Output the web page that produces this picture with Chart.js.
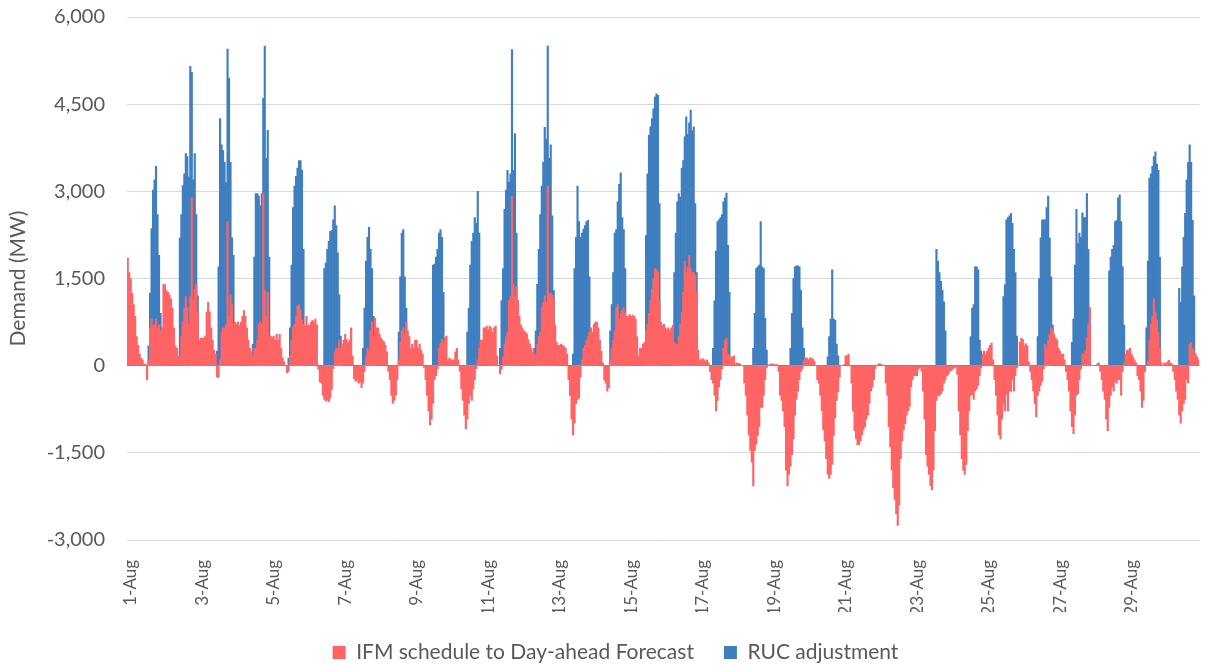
<!DOCTYPE html>
<html>
<head>
<meta charset="utf-8">
<script src="https://cdn.jsdelivr.net/npm/chart.js@4/dist/chart.umd.min.js"></script>
<style>
  html, body { margin: 0; padding: 0; background: #fff; overflow: hidden; }
  #wrap { width: 1231px; height: 665px; position: relative; }
</style>
</head>
<body>
<div id="wrap"><canvas id="demandChart"></canvas></div>
<script>
const days = ['1-Aug','2-Aug','3-Aug','4-Aug','5-Aug','6-Aug','7-Aug','8-Aug','9-Aug','10-Aug',
  '11-Aug','12-Aug','13-Aug','14-Aug','15-Aug','16-Aug','17-Aug','18-Aug','19-Aug','20-Aug',
  '21-Aug','22-Aug','23-Aug','24-Aug','25-Aug','26-Aug','27-Aug','28-Aug','29-Aug','30-Aug'];
const tickDays = ['1-Aug','3-Aug','5-Aug','7-Aug','9-Aug','11-Aug','13-Aug','15-Aug',
  '17-Aug','19-Aug','21-Aug','23-Aug','25-Aug','27-Aug','29-Aug'];
const yTicks = [-3000, -1500, 0, 1500, 3000, 4500, 6000];

// hourly MW, one row per day (hours 0..23)
const ifm = [
  1850,1600,1500,1250,1050,850,500,350,200,130,100,30,20,-240,100,650,800,700,700,800,650,700,600,650,
  1400,1390,1290,1260,1220,1150,990,650,340,300,170,170,510,750,990,1190,1000,710,1190,2890,1120,1320,1400,920,
  440,475,475,475,510,920,1090,920,650,440,270,200,-200,-200,100,580,650,650,710,2480,850,1220,1050,710,
  750,710,750,680,750,850,950,850,650,440,300,240,170,300,300,440,710,750,710,2960,1290,850,1260,510,
  510,475,510,440,540,440,540,300,135,70,0,-120,-100,170,440,650,710,850,1020,1050,950,780,710,680,
  850,700,700,750,780,750,800,700,-60,-280,-300,-510,-580,-610,-590,-620,-560,-410,-50,240,300,300,440,300,
  370,440,540,450,400,440,650,170,-230,-270,-250,-300,-280,-380,-300,-100,150,300,250,600,750,500,820,650,
  650,550,480,440,410,350,240,-100,-240,-510,-650,-600,-510,-240,100,400,600,650,550,750,600,500,300,370,
  300,440,440,300,370,270,200,-30,-240,-510,-780,-1020,-920,-650,-240,-170,-60,300,380,450,400,480,510,100,
  135,100,100,100,240,300,100,-100,-400,-600,-850,-1090,-920,-650,-510,-600,-400,-240,-50,100,300,440,440,650,
  650,680,620,680,650,580,650,680,170,0,-140,-60,150,370,500,580,1120,1190,2920,1390,1190,1360,1120,850,
  700,650,600,580,550,450,370,300,240,200,170,370,500,580,1000,1090,1200,1090,3090,1220,1250,1220,1150,700,
  400,350,350,370,350,330,300,200,-240,-510,-920,-1190,-990,-650,-580,-560,-200,100,300,350,440,500,580,650,
  580,710,750,750,650,440,250,50,-250,-300,-440,-380,100,300,440,600,1000,1050,800,900,950,1000,900,850,
  850,880,850,870,850,800,500,170,300,300,370,400,600,710,900,1120,1320,1500,1670,1650,1600,1120,750,700,
  710,650,620,650,600,650,700,400,370,370,500,710,920,1260,1800,1600,1700,1900,1670,1600,1600,1560,1260,270,
  100,100,120,100,70,100,50,-100,-240,-300,-510,-780,-600,-370,-240,-50,300,440,475,200,170,135,150,170,
  30,50,40,30,0,0,-300,-510,-850,-1190,-1460,-1660,-2070,-1460,-1350,-1200,-1050,-720,-720,-510,-240,-40,0,20,
  30,30,20,20,20,-100,-510,-600,-780,-1050,-1800,-2070,-1870,-1730,-1530,-1260,-850,-580,-440,-240,-100,-50,100,135,
  130,100,130,135,110,80,0,-240,-300,-510,-780,-1100,-1300,-1600,-1870,-1940,-1870,-1700,-1200,-900,-600,-450,-200,0,
  0,20,170,170,200,0,-300,-780,-1120,-1260,-1360,-1360,-1300,-1190,-1100,-1050,-920,-850,-650,-440,-370,-240,-50,0,
  30,30,20,10,0,-300,-510,-1050,-1400,-1800,-2100,-2300,-2550,-2750,-2400,-1600,-1300,-1100,-1000,-850,-780,-700,-370,-240,
  -170,-170,-170,-60,-30,-100,-440,-920,-1530,-1730,-1870,-2070,-2140,-1800,-1120,-600,-510,-520,-480,-440,-300,-240,-170,-150,
  -100,-80,-60,-40,-20,-150,-780,-1190,-1600,-1800,-1870,-1700,-1120,-780,-510,-500,-580,-440,-400,-340,-170,-40,200,250,
  200,250,300,350,390,100,-240,-510,-850,-1190,-1260,-920,-650,-780,-500,-780,-440,-440,-240,-440,-170,-40,0,400,
  475,450,340,380,340,60,-100,-240,-440,-650,-880,-510,-440,-340,-270,-50,370,300,440,540,650,620,540,475,
  440,300,250,200,200,100,-100,-240,-440,-780,-1050,-1170,-850,-510,-480,-240,-60,200,200,250,475,710,1000,0,
  0,0,0,30,50,-100,-240,-440,-580,-920,-1120,-720,-510,-370,-440,-270,-300,-240,-240,-510,-100,50,200,270,
  270,300,200,150,100,50,-170,-240,-440,-720,-600,-100,0,70,440,710,850,1150,920,780,580,300,50,0,
  50,30,60,90,50,30,-100,-240,-440,-580,-850,-990,-780,-650,-580,-240,-300,370,400,300,250,200,150,100
];

const ruc = [
  0,0,0,0,0,0,0,0,0,0,0,0,0,0,340,1250,2360,3020,3200,3430,2600,1900,900,0,
  0,0,0,0,0,0,0,0,0,0,0,2200,2600,3100,3300,3650,3600,3250,5150,5050,3200,3650,2600,1200,
  0,0,0,0,0,0,0,0,0,0,0,0,250,1700,4250,3800,3700,3500,3150,5450,4950,3500,2200,1900,
  0,0,0,0,0,0,0,0,0,0,0,0,370,1870,2960,2960,2920,2750,2960,4600,5500,3570,4050,1870,
  0,0,0,0,0,0,0,0,0,0,0,0,130,650,1730,2720,3090,3260,3400,3530,3530,3360,2000,500,
  0,0,0,0,0,0,0,0,0,0,0,0,1670,1770,2000,2140,2310,2330,2510,2750,2410,1940,1220,510,
  0,0,0,0,0,0,0,0,0,0,0,0,0,0,300,990,1800,2210,2380,2000,1670,850,370,0,
  0,0,0,0,0,0,0,0,0,0,0,0,0,0,580,1530,2280,2340,1530,990,440,0,0,0,
  0,0,0,0,0,0,0,0,0,0,0,0,0,1730,1750,1870,2000,2280,2340,2210,1260,0,0,0,
  0,0,0,0,0,0,0,0,0,0,0,0,580,990,1730,2140,2280,2550,2450,3000,2280,0,0,0,
  0,0,0,0,0,0,0,0,0,0,300,1120,1670,2690,3020,3360,3160,3300,5440,3360,3990,2280,1120,0,
  0,0,0,0,0,0,0,0,0,300,600,1400,2000,2600,3090,3500,4100,3900,5500,3570,3800,2580,1290,300,
  0,0,0,0,0,0,0,0,0,0,0,200,1670,2210,3090,2480,2210,2280,2350,2410,2480,2500,1530,0,
  0,0,0,0,0,0,0,0,0,0,0,0,600,1050,1600,2280,2340,2820,3120,3320,2550,2340,1670,0,
  0,0,0,0,0,0,0,0,0,0,0,0,2240,3300,3970,4110,4250,4420,4620,4680,4650,2790,0,0,
  0,0,0,0,0,0,0,1600,2280,2820,2960,2900,3400,3530,3940,4280,3980,4180,4400,4040,4110,2790,1600,0,
  0,0,0,0,0,0,0,0,0,300,1120,1970,2480,2510,2550,2600,2820,2890,2970,2070,1260,0,0,0,
  0,0,0,0,0,0,0,0,0,0,0,0,300,900,1670,1700,1730,2480,1700,1670,815,270,0,0,
  0,0,0,0,0,0,0,0,0,0,0,0,0,300,900,1500,1700,1720,1720,1700,1300,650,300,0,
  0,0,0,0,0,0,0,0,0,0,0,0,0,0,150,500,800,1650,800,780,370,170,0,0,
  0,0,0,0,0,0,0,0,0,0,0,0,0,0,0,0,0,0,0,0,0,0,0,0,
  0,0,0,0,0,0,0,0,0,0,0,0,0,0,0,0,0,0,0,0,0,0,0,0,
  0,0,0,0,0,0,0,0,0,0,0,0,0,0,0,2000,1800,1600,1450,1300,1100,600,0,0,
  0,0,0,0,0,0,0,0,0,0,0,0,0,0,500,990,1050,1700,1700,1650,440,250,150,0,
  0,0,0,0,0,0,0,0,0,0,0,0,1190,1390,2510,2550,2580,2620,2450,2000,1600,510,0,0,
  0,0,0,0,0,0,0,0,0,0,0,500,1500,2200,2510,2510,2510,2720,2920,2200,1530,700,0,0,
  0,0,0,0,0,0,0,0,0,0,400,800,1730,2690,2100,2280,2210,2630,2550,2550,2960,2000,700,0,
  0,0,0,0,0,0,0,0,0,0,0,1630,1870,2000,2070,2480,2500,2890,2940,2480,1700,700,0,0,
  0,0,0,0,0,0,0,0,0,0,0,0,650,1800,3230,3300,3430,3600,3680,3470,3360,1870,0,0,
  0,0,0,0,0,0,0,0,0,0,1330,1090,1700,2210,2620,3200,3500,3800,3500,2500,1200,0,0,0
];

const hours = [];
days.forEach(d => {
  for (let h = 0; h < 24; h++) hours.push(d + ' ' + String(h).padStart(2, '0') + ':00');
});

Chart.defaults.font.family = 'Lato, "Open Sans", sans-serif';
Chart.defaults.color = '#595959';

const gridColor = '#d9d9d9';

new Chart(document.getElementById('demandChart'), {
  type: 'bar',
  data: {
    labels: hours,
    datasets: [
      {
        label: 'IFM schedule to Day-ahead Forecast',
        data: ifm,
        backgroundColor: '#ff6464',
        borderWidth: 0,
        grouped: false,
        barPercentage: 1,
        categoryPercentage: 1
      },
      {
        label: 'RUC adjustment',
        data: ruc,
        backgroundColor: '#3f7fbf',
        borderWidth: 0,
        grouped: false,
        barPercentage: 1,
        categoryPercentage: 1
      }
    ]
  },
  options: {
    responsive: true,
    maintainAspectRatio: false,
    animation: false,
    events: [],
    layout: { padding: { top: 17, bottom: -8, left: 0, right: 0 } },
    plugins: {
      tooltip: { enabled: false },
      legend: {
        position: 'bottom',
        labels: {
          boxWidth: 13,
          boxHeight: 13,
          padding: 30,
          color: '#595959',
          font: { size: 21 }
        }
      }
    },
    scales: {
      x: {
        grid: { display: false },
        border: { display: false },
        ticks: {
          autoSkip: false,
          minRotation: 90,
          maxRotation: 90,
          padding: 12,
          labelOffset: 3,
          font: { size: 17 },
          color: '#595959',
          callback: (val, i) => (i % 48 === 0 ? tickDays[i / 48] : '')
        },
        afterFit: s => { s.height = 72; }
      },
      y: {
        min: yTicks[0],
        max: yTicks[yTicks.length - 1],
        grid: {
          color: gridColor,
          lineWidth: 1,
          drawTicks: true,
          tickLength: 22,
          tickColor: 'rgba(0,0,0,0)'
        },
        border: { display: false },
        ticks: {
          stepSize: 1500,
          padding: 0,
          font: { size: 20 },
          color: '#595959',
          callback: v => v.toLocaleString('en-US')
        },
        title: {
          display: true,
          text: 'Demand (MW)',
          color: '#595959',
          font: { size: 21 },
          padding: { top: 6, bottom: 0 }
        },
        afterFit: s => { s.width = 127; }
      },
      yRight: {
        position: 'right',
        display: true,
        grid: { display: false },
        border: { display: false },
        ticks: { display: false },
        afterFit: s => { s.width = 16; }
      }
    }
  }
});
</script>
</body>
</html>
